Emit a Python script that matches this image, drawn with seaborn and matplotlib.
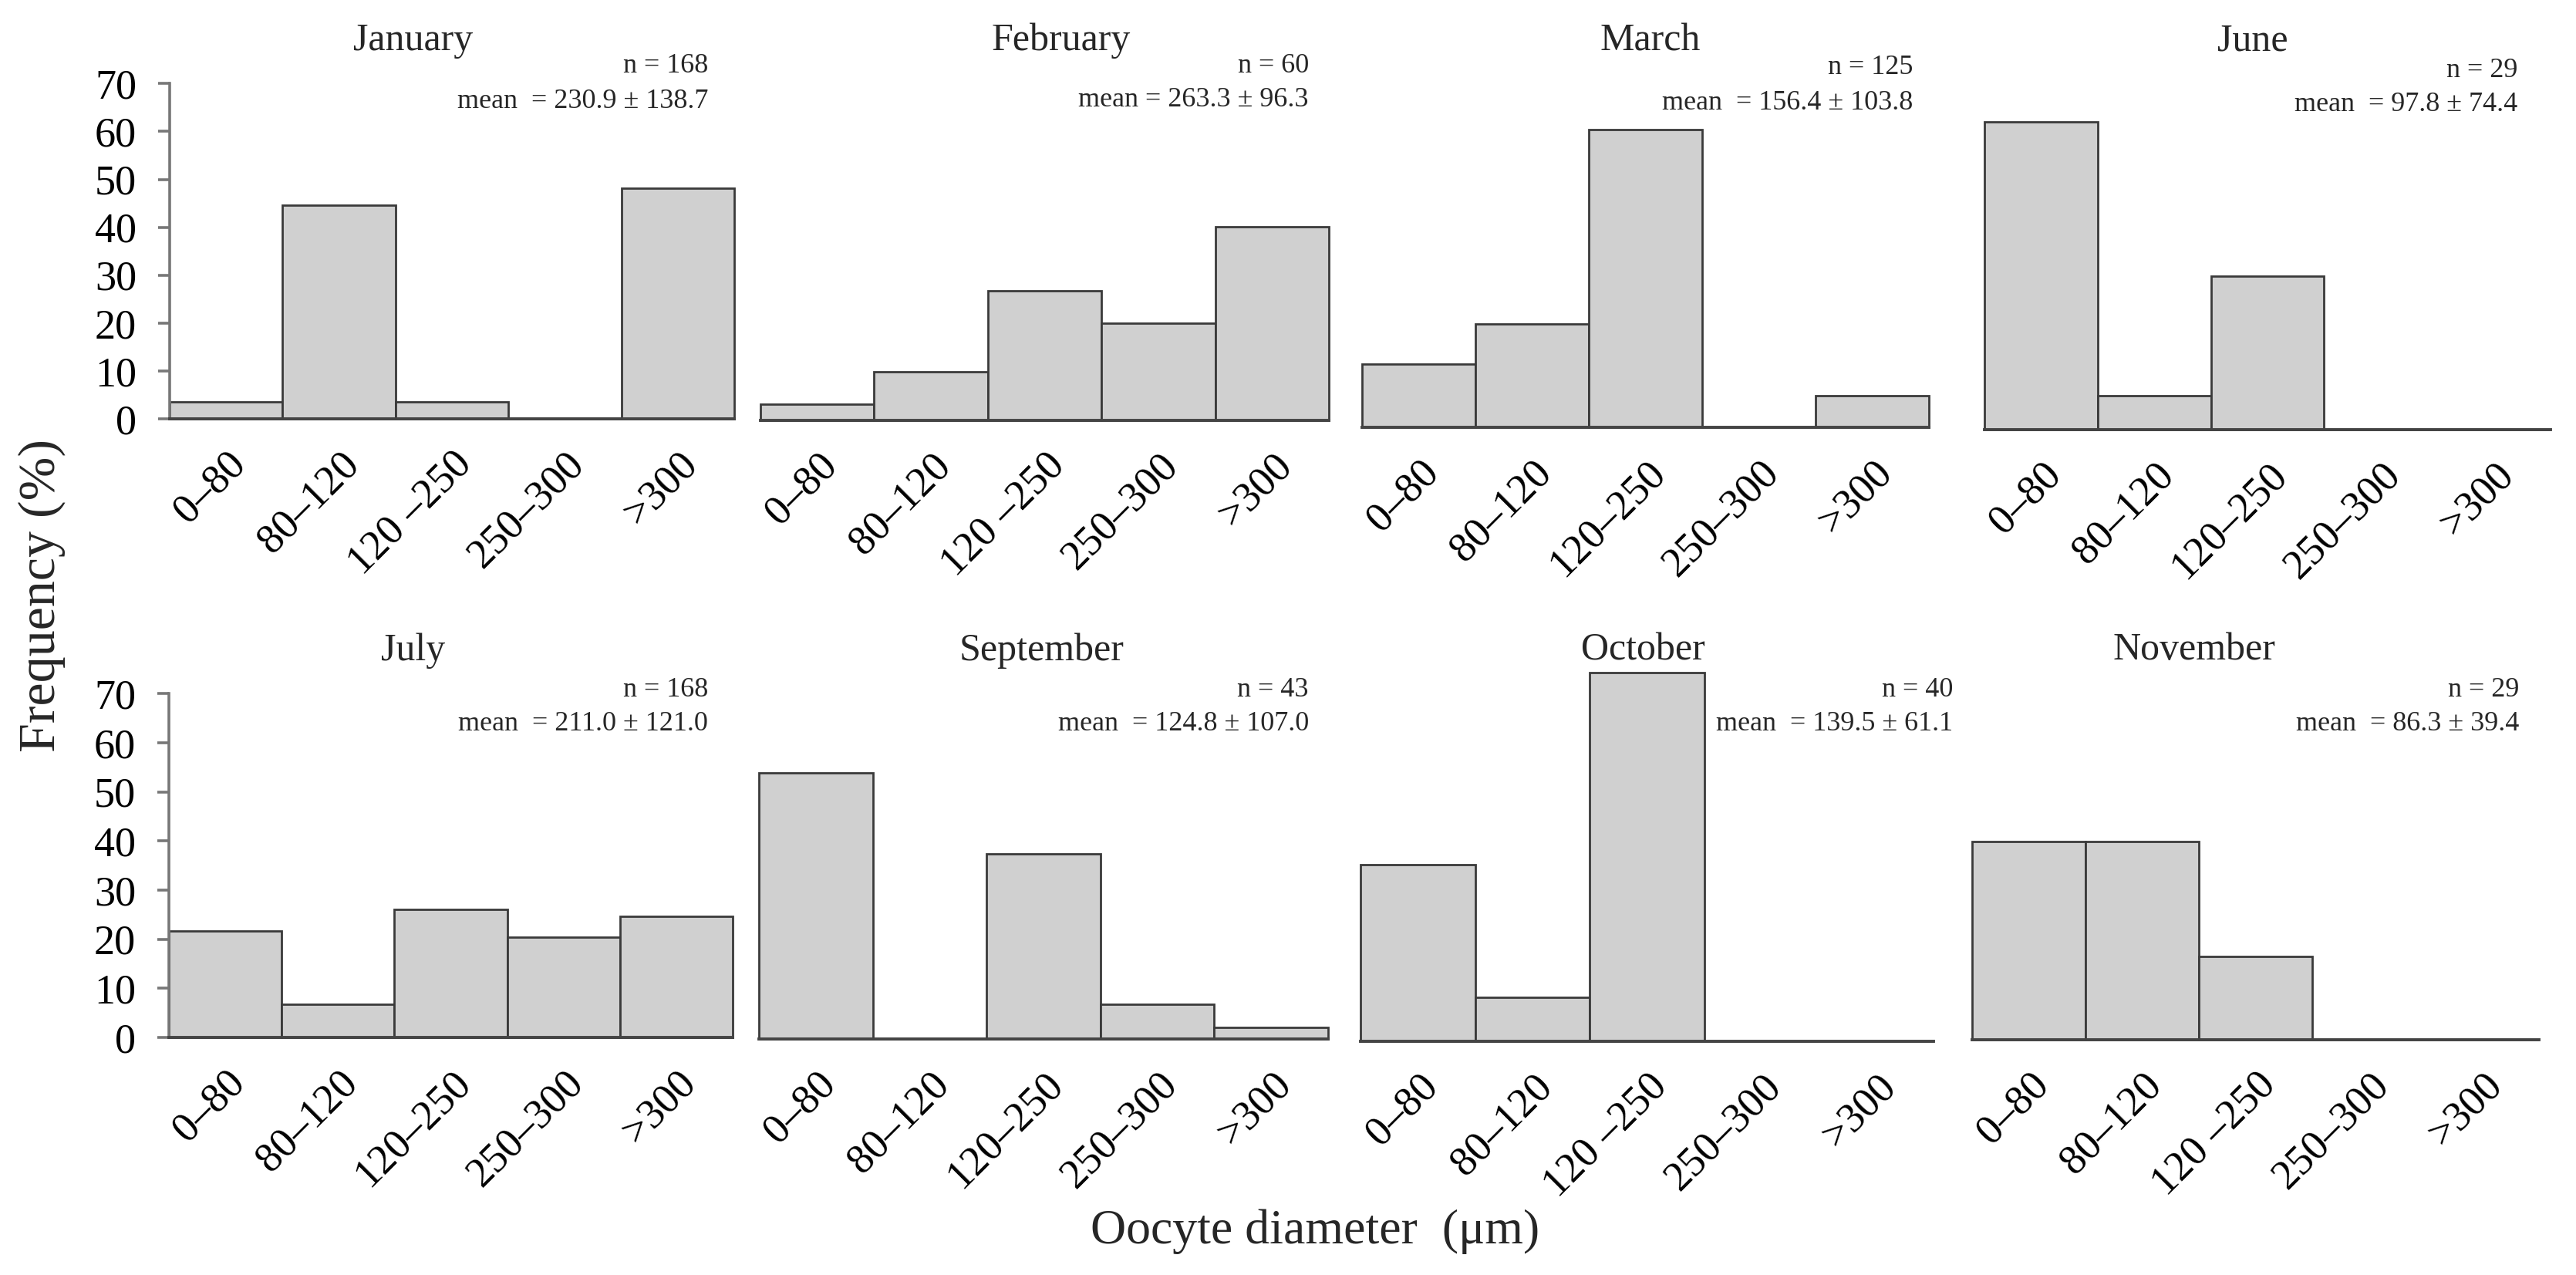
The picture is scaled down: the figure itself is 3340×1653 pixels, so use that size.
import numpy as np
import pandas as pd
import matplotlib
matplotlib.use("Agg")
import matplotlib.pyplot as plt
import seaborn as sns

# ---------------- data ----------------
months = ["January", "February", "March", "June",
          "July", "September", "October", "November"]
bins = ["0–80", "80–120", "120–250", "250–300", ">300"]
labels_plain = ["0–80", "80–120", "120–250", "250–300", ">300"]
labels_spaced = ["0–80", "80–120", "120 –250", "250–300", ">300"]
spaced_label_months = ["January", "February", "October", "November"]

freq_january = [3.6, 44.6, 3.6, 0.0, 48.2]
freq_february = [3.3, 10.0, 26.7, 20.0, 40.0]
freq_march = [12.8, 20.8, 60.0, 0.0, 6.4]
freq_june = [62.1, 6.9, 31.0, 0.0, 0.0]
freq_july = [21.7, 6.7, 26.1, 20.4, 24.6]
freq_september = [53.5, 0.0, 37.2, 7.0, 2.3]
freq_october = [36.0, 9.0, 75.0, 0.0, 0.0]
freq_november = [40.3, 40.3, 16.9, 0.0, 0.0]

n_values = [168, 60, 125, 29, 168, 43, 40, 29]
mean_texts = ["mean  = 230.9 ± 138.7", "mean = 263.3 ± 96.3",
              "mean  = 156.4 ± 103.8", "mean  = 97.8 ± 74.4",
              "mean  = 211.0 ± 121.0", "mean  = 124.8 ± 107.0",
              "mean  = 139.5 ± 61.1", "mean  = 86.3 ± 39.4"]
yticks = [0, 10, 20, 30, 40, 50, 60, 70]

all_freqs = [freq_january, freq_february, freq_march, freq_june,
             freq_july, freq_september, freq_october, freq_november]
df = pd.DataFrame({
    "month": np.repeat(months, len(bins)),
    "bin": bins * len(months),
    "freq": np.concatenate(all_freqs),
})

# ---------------- layout (pixels of the 3341x1653 canvas) ----------------
W, H, DPI = 3341, 1653, 200
# left, right, baseline, px per unit
panels = [
    (220, 952, 543, 6.21), (986, 1723, 545, 6.28),
    (1766, 2501, 554, 6.44), (2573, 3307, 557, 6.43),
    (219, 950, 1345, 6.37), (984, 1722, 1347, 6.44),
    (1764, 2507, 1350, 6.37), (2557, 3292, 1348, 6.37),
]
title_pos = [(536, 65), (1376, 65), (2140, 66), (2921, 66),
             (536, 856), (1351, 856), (2130, 855), (2845, 855)]
ann_right = [918, 1697, 2480, 3264, 918, 1697, 2532, 3266]
ann_y = [(85, 132), (85, 129), (87, 133), (91, 136),
         (894, 938), (894, 938), (894, 938), (894, 938)]
with_yaxis = ["January", "July"]

sns.set_theme(style="white")
plt.rcParams["font.family"] = ["Liberation Serif", "DejaVu Serif"]

fill = "#d0d0d0"
edge = "#3a3a3a"

fig = plt.figure(figsize=(W / DPI, H / DPI), dpi=DPI)
fig.patch.set_facecolor("white")

for i, month in enumerate(months):
    l, r, b, s = panels[i]
    ax = fig.add_axes([l / W, 1 - b / H, (r - l) / W, 80 * s / H])
    sub = df[df["month"] == month]
    sns.barplot(data=sub, x="bin", y="freq", order=bins, ax=ax,
                width=1.0, color=fill, edgecolor=edge, linewidth=1.0,
                saturation=1, errorbar=None)
    for p in ax.patches:
        p.set_clip_on(False)
    ax.set_xlim(-0.5, 4.5)
    ax.set_ylim(0, 80)
    ax.set_facecolor("none")
    ax.set_xlabel("")
    ax.set_ylabel("")
    for sp in ["top", "right"]:
        ax.spines[sp].set_visible(False)
    ax.spines["bottom"].set_color("#444444")
    ax.spines["bottom"].set_linewidth(1.4)
    ax.spines["bottom"].set_zorder(5)

    labs = labels_spaced if month in spaced_label_months else labels_plain
    ax.set_xticks(range(len(bins)))
    ax.set_xticklabels(labs, rotation=45, ha="right", va="top",
                       rotation_mode="anchor", fontsize=19.5)
    ax.tick_params(axis="x", length=0, pad=12, colors="black")

    if month in with_yaxis:
        ax.spines["left"].set_visible(True)
        ax.spines["left"].set_color("#777777")
        ax.spines["left"].set_linewidth(1.3)
        ax.spines["left"].set_bounds(0, 70)
        ax.set_yticks(yticks)
        ax.set_yticklabels([str(t) for t in yticks], fontsize=19.5)
        ax.tick_params(axis="y", left=True, length=5.4, width=1.3,
                       color="#777777", pad=10, labelcolor="black",
                       direction="out")
    else:
        ax.spines["left"].set_visible(False)
        ax.set_yticks([])

    tx, ty = title_pos[i]
    fig.text(tx / W, 1 - ty / H, month, ha="center", va="baseline",
             fontsize=18)
    ny, my = ann_y[i]
    fig.text(ann_right[i] / W, 1 - ny / H, f"n = {n_values[i]}",
             ha="right", va="center", fontsize=13)
    fig.text(ann_right[i] / W, 1 - my / H, mean_texts[i],
             ha="right", va="center", fontsize=13)

fig.text(54 / W, 1 - 772 / H, "Frequency (%)", rotation=90,
         ha="center", va="center", fontsize=24.5)
fig.text(1705 / W, 1 - 1597 / H, "Oocyte diameter  (μm)",
         ha="center", va="center", fontsize=23)

fig.savefig("out.png", dpi=DPI, facecolor="white")
